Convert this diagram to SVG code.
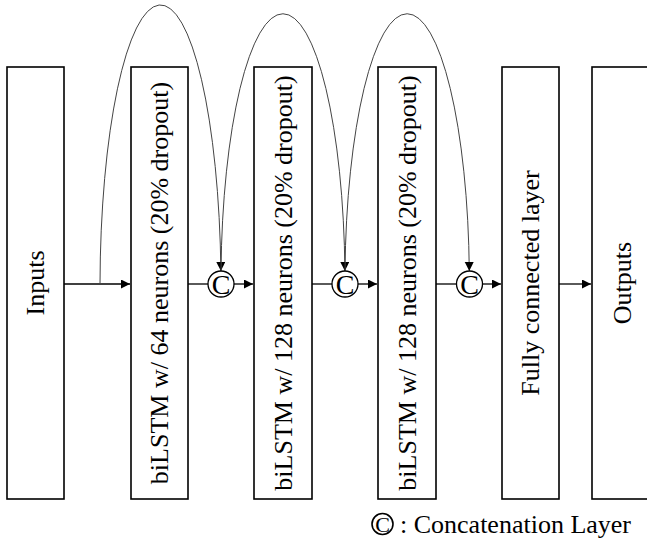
<svg xmlns="http://www.w3.org/2000/svg" width="647" height="545" viewBox="0 0 647 545">
<defs>
<style>
.box{fill:#fff;stroke:#000;stroke-width:1.6}
.lbl{font-family:"Liberation Serif","Times New Roman",serif;font-size:26px;fill:#000;text-anchor:middle}
.ln{stroke:#000;stroke-width:1.3;fill:none}
.arc{stroke:#444;stroke-width:1;fill:none}
.cc{fill:#fff;stroke:#000;stroke-width:1.3}
.ct{font-family:"Liberation Serif","Times New Roman",serif;font-size:28px;fill:#000;text-anchor:middle}
</style>
<marker id="ah" markerWidth="10" markerHeight="10" refX="9" refY="4.5" orient="auto" markerUnits="userSpaceOnUse">
<path d="M0,0 L9,4.5 L0,9 Z" fill="#000"/>
</marker>
</defs>
<rect width="647" height="545" fill="#fff"/>
<g id="connectors">
<line class="ln" x1="64" y1="284" x2="130" y2="284" marker-end="url(#ah)"/>
<line class="ln" x1="188" y1="284" x2="208" y2="284"/>
<line class="ln" x1="234" y1="284" x2="253" y2="284" marker-end="url(#ah)"/>
<line class="ln" x1="312" y1="284" x2="332" y2="284"/>
<line class="ln" x1="358" y1="284" x2="377" y2="284" marker-end="url(#ah)"/>
<line class="ln" x1="436" y1="284" x2="456" y2="284"/>
<line class="ln" x1="482" y1="284" x2="501" y2="284" marker-end="url(#ah)"/>
<line class="ln" x1="559" y1="284" x2="591" y2="284" marker-end="url(#ah)"/>
<path class="arc" d="M100,284 A60.5,282 0 0 1 220.9,271" marker-end="url(#ah)"/>
<path class="arc" d="M221,271 A62,268 0 0 1 344.9,271" marker-end="url(#ah)"/>
<path class="arc" d="M345,271 A62.2,268 0 0 1 469.3,271" marker-end="url(#ah)"/>
</g>
<g id="inputs">
<rect class="box" x="7" y="67" width="57" height="432"/>
<text class="lbl" transform="translate(44,283) rotate(-90)">Inputs</text>
</g>
<g id="bilstm1">
<rect class="box" x="131" y="67" width="57" height="432"/>
<text class="lbl" transform="translate(168,283) rotate(-90)">biLSTM w/ 64 neurons (20% dropout)</text>
</g>
<g id="concat1">
<circle class="cc" cx="221" cy="284" r="13"/>
<text class="ct" x="221" y="293.5">C</text>
</g>
<g id="bilstm2">
<rect class="box" x="254" y="67" width="58" height="432"/>
<text class="lbl" transform="translate(291.5,283) rotate(-90)">biLSTM w/ 128 neurons (20% dropout)</text>
</g>
<g id="concat2">
<circle class="cc" cx="345" cy="284" r="13"/>
<text class="ct" x="345" y="293.5">C</text>
</g>
<g id="bilstm3">
<rect class="box" x="378" y="67" width="58" height="432"/>
<text class="lbl" transform="translate(415.5,283) rotate(-90)">biLSTM w/ 128 neurons (20% dropout)</text>
</g>
<g id="concat3">
<circle class="cc" cx="469.5" cy="284" r="13"/>
<text class="ct" x="469.5" y="293.5">C</text>
</g>
<g id="fc">
<rect class="box" x="502" y="67" width="57" height="432"/>
<text class="lbl" transform="translate(539,283) rotate(-90)">Fully connected layer</text>
</g>
<g id="outputs">
<rect class="box" x="592" y="67" width="60" height="432"/>
<text class="lbl" transform="translate(631,283) rotate(-90)">Outputs</text>
</g>
<g id="legend">
<circle cx="382.5" cy="524" r="10.5" fill="#fff" stroke="#000" stroke-width="1.6"/>
<text class="ct" x="382.5" y="531.5" style="font-size:22px">C</text>
<text class="lbl" x="400" y="533" style="text-anchor:start">: Concatenation Layer</text>
</g>
</svg>
